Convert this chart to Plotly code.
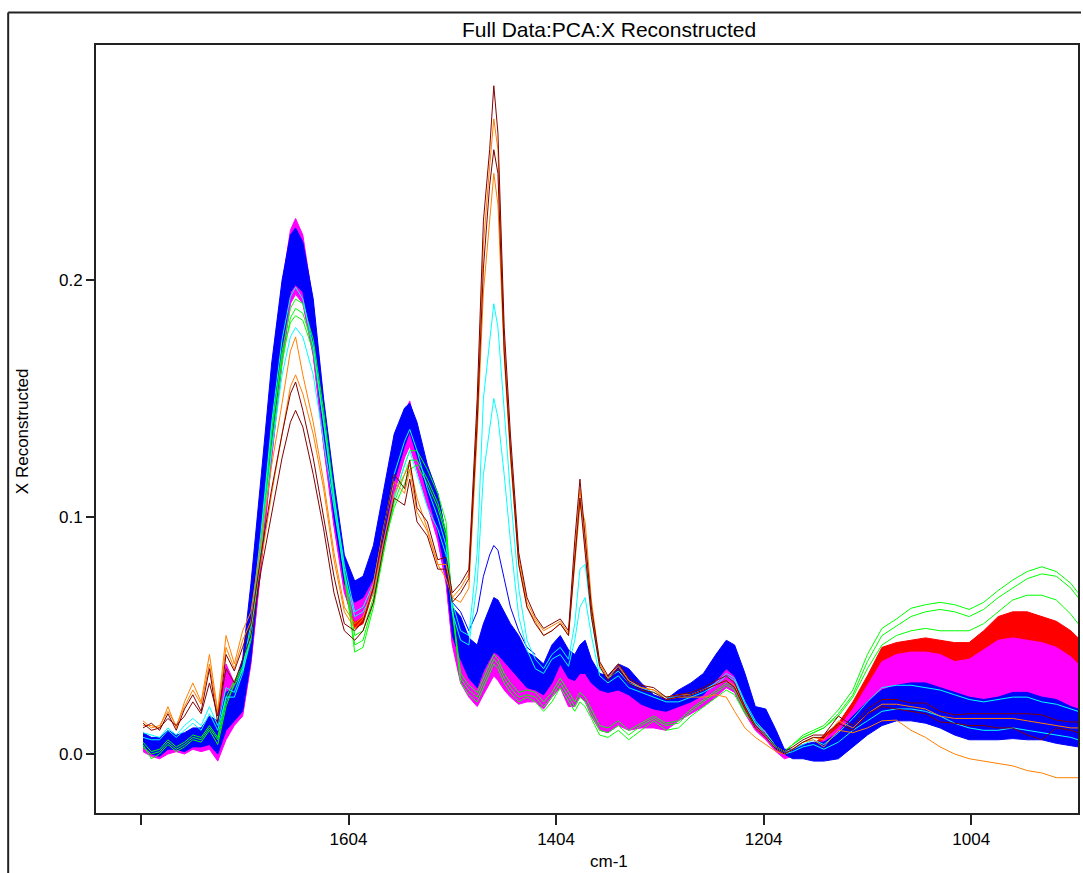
import plotly.graph_objects as go

# wavenumber grid (cm-1)
wavenumber = [1802, 1794, 1786, 1778, 1770, 1762, 1754, 1746, 1738, 1730, 1722, 1714, 1706,
              1698, 1688, 1678, 1668, 1660, 1655, 1648, 1638, 1628, 1618, 1608,
              1598, 1590, 1580, 1570, 1560, 1550, 1545, 1538, 1528, 1518, 1510, 1504,
              1496, 1488, 1480, 1474, 1468, 1464, 1460, 1454, 1448, 1440, 1432, 1424, 1416, 1408,
              1400, 1392, 1386, 1381, 1376, 1370, 1362, 1354, 1344, 1334, 1322, 1310, 1298, 1286,
              1274, 1262, 1250, 1240, 1232, 1222, 1212, 1202, 1192, 1184, 1176, 1166, 1156,
              1146, 1132, 1118, 1104, 1090, 1076, 1062, 1048, 1034, 1020, 1006, 992, 978, 964,
              950, 936, 922, 908, 901]

blue_hi = [0.009, 0.007, 0.007, 0.010, 0.008, 0.009, 0.011, 0.011, 0.016, 0.014, 0.026, 0.028, 0.040,
           0.072, 0.118, 0.165, 0.200, 0.219, 0.222, 0.216, 0.192, 0.150, 0.115, 0.084,
           0.073, 0.075, 0.088, 0.112, 0.135, 0.146, 0.148, 0.140, 0.122, 0.110, 0.092, 0.062,
           0.058, 0.049, 0.046, 0.055, 0.062, 0.066, 0.065, 0.060, 0.055, 0.050, 0.043, 0.041, 0.038, 0.046,
           0.050, 0.044, 0.042, 0.046, 0.048, 0.040, 0.034, 0.033, 0.038, 0.036, 0.030, 0.025, 0.023, 0.027,
           0.030, 0.034, 0.042, 0.048, 0.046, 0.034, 0.020, 0.019, 0.010, 0.002, 0.002, 0.004, 0.005,
           0.005, 0.009, 0.016, 0.022, 0.027, 0.029, 0.030, 0.030, 0.028, 0.026, 0.024, 0.023, 0.024, 0.026,
           0.026, 0.024, 0.023, 0.020, 0.019]
blue_lo = [0.003, 0.000, -0.001, 0.002, 0.002, 0.001, 0.003, 0.003, 0.004, 0.000, 0.010, 0.014, 0.018,
           0.040, 0.085, 0.130, 0.170, 0.195, 0.198, 0.195, 0.172, 0.135, 0.100, 0.072,
           0.064, 0.066, 0.074, 0.092, 0.115, 0.130, 0.136, 0.126, 0.110, 0.094, 0.076, 0.050,
           0.040, 0.032, 0.028, 0.035, 0.040, 0.043, 0.042, 0.039, 0.036, 0.032, 0.028, 0.027, 0.025, 0.030,
           0.038, 0.032, 0.031, 0.034, 0.034, 0.030, 0.027, 0.026, 0.027, 0.025, 0.021, 0.019, 0.018, 0.020,
           0.022, 0.025, 0.031, 0.036, 0.033, 0.022, 0.013, 0.010, 0.002, 0.000, -0.002, -0.002, -0.003,
           -0.003, -0.002, 0.003, 0.008, 0.012, 0.014, 0.014, 0.013, 0.011, 0.008, 0.006, 0.006, 0.006, 0.0065,
           0.006, 0.006, 0.0045, 0.0035, 0.003]
# a few sparse blue spectra standing above the dense band at 1464 cm-1
blue_line_x = [1518, 1510, 1504, 1496, 1488, 1480, 1474, 1468, 1464, 1460, 1454, 1448, 1440, 1432, 1424]
blue_line_y = [0.110, 0.092, 0.064, 0.060, 0.052, 0.060, 0.075, 0.084, 0.088, 0.086, 0.074, 0.062, 0.052, 0.045, 0.042]

magenta_hi = [0.008, 0.006, 0.005, 0.008, 0.007, 0.008, 0.009, 0.010, 0.014, 0.012, 0.038, 0.030, 0.036,
              0.068, 0.112, 0.160, 0.198, 0.221, 0.226, 0.219, 0.190, 0.146, 0.110, 0.080,
              0.066, 0.068, 0.080, 0.104, 0.128, 0.144, 0.149, 0.136, 0.118, 0.104, 0.088, 0.058,
              0.040, 0.035, 0.032, 0.040, 0.048, 0.054, 0.052, 0.046, 0.040, 0.035, 0.031, 0.030, 0.028, 0.033,
              0.041, 0.035, 0.034, 0.037, 0.037, 0.033, 0.030, 0.029, 0.030, 0.028, 0.024, 0.022, 0.021, 0.023,
              0.025, 0.028, 0.034, 0.039, 0.036, 0.025, 0.016, 0.013, 0.004, 0.001, 0.000, 0.002, 0.003,
              0.006, 0.011, 0.019, 0.029, 0.039, 0.042, 0.043, 0.043, 0.042, 0.039, 0.040, 0.044, 0.048, 0.049,
              0.048, 0.047, 0.045, 0.041, 0.038]
magenta_lo = [0.001, -0.001, -0.002, 0.000, 0.001, 0.000, 0.002, 0.001, 0.002, -0.003, 0.006, 0.012, 0.016,
              0.038, 0.080, 0.125, 0.165, 0.190, 0.194, 0.190, 0.168, 0.130, 0.096, 0.068,
              0.056, 0.058, 0.068, 0.088, 0.110, 0.125, 0.130, 0.120, 0.105, 0.090, 0.072, 0.046,
              0.030, 0.024, 0.020, 0.025, 0.030, 0.033, 0.031, 0.027, 0.024, 0.021, 0.022, 0.022, 0.019, 0.024,
              0.028, 0.020, 0.020, 0.024, 0.022, 0.016, 0.010, 0.009, 0.012, 0.010, 0.011, 0.011, 0.010, 0.014,
              0.017, 0.020, 0.024, 0.028, 0.026, 0.017, 0.010, 0.006, 0.001, -0.002, -0.001, 0.001, 0.002,
              0.003, 0.006, 0.013, 0.019, 0.024, 0.026, 0.027, 0.027, 0.025, 0.023, 0.021, 0.020, 0.021, 0.023,
              0.023, 0.021, 0.020, 0.017, 0.016]
red_hi = [0.004, 0.002, 0.001, 0.003, 0.004, 0.003, 0.005, 0.004, 0.005, 0.000, 0.009, 0.015, 0.019,
          0.041, 0.083, 0.128, 0.168, 0.193, 0.197, 0.193, 0.171, 0.133, 0.099, 0.071,
          0.058, 0.060, 0.071, 0.091, 0.113, 0.128, 0.133, 0.123, 0.108, 0.093, 0.075, 0.049,
          0.033, 0.027, 0.023, 0.028, 0.033, 0.036, 0.034, 0.030, 0.027, 0.024, 0.025, 0.025, 0.022, 0.027,
          0.031, 0.023, 0.023, 0.027, 0.025, 0.019, 0.013, 0.012, 0.015, 0.013, 0.014, 0.014, 0.013, 0.017,
          0.020, 0.023, 0.027, 0.031, 0.029, 0.020, 0.013, 0.009, 0.004, 0.001, 0.002, 0.003, 0.004,
          0.008, 0.013, 0.022, 0.033, 0.045, 0.047, 0.048, 0.049, 0.048, 0.047, 0.047, 0.052, 0.058, 0.060,
          0.060, 0.058, 0.056, 0.052, 0.049]
red_lo = [0.002, 0.000, -0.001, 0.001, 0.002, 0.001, 0.003, 0.002, 0.003, -0.002, 0.007, 0.013, 0.017,
          0.039, 0.081, 0.126, 0.166, 0.191, 0.195, 0.191, 0.169, 0.131, 0.097, 0.069,
          0.053, 0.055, 0.069, 0.089, 0.111, 0.126, 0.131, 0.121, 0.106, 0.091, 0.073, 0.047,
          0.031, 0.025, 0.021, 0.026, 0.031, 0.034, 0.032, 0.028, 0.025, 0.022, 0.023, 0.023, 0.020, 0.025,
          0.029, 0.021, 0.021, 0.025, 0.023, 0.017, 0.011, 0.010, 0.013, 0.011, 0.012, 0.012, 0.011, 0.015,
          0.018, 0.021, 0.025, 0.029, 0.027, 0.018, 0.011, 0.007, 0.002, -0.001, 0.000, 0.002, 0.002,
          0.005, 0.010, 0.018, 0.028, 0.038, 0.041, 0.042, 0.042, 0.041, 0.038, 0.039, 0.043, 0.047, 0.048,
          0.047, 0.046, 0.044, 0.040, 0.037]

green_1 = [0.004, -0.002, 0.000, 0.004, 0.001, 0.003, 0.006, 0.005, 0.010, 0.004, 0.020, 0.030, 0.036,
           0.050, 0.090, 0.135, 0.170, 0.188, 0.192, 0.190, 0.175, 0.145, 0.110, 0.076,
           0.043, 0.045, 0.062, 0.085, 0.108, 0.122, 0.128, 0.128, 0.120, 0.110, 0.098, 0.062,
           0.030, 0.025, 0.022, 0.028, 0.034, 0.038, 0.036, 0.030, 0.026, 0.022, 0.024, 0.022, 0.018, 0.022,
           0.028, 0.022, 0.018, 0.022, 0.020, 0.015, 0.008, 0.007, 0.010, 0.006, 0.010, 0.014, 0.010, 0.011,
           0.016, 0.020, 0.024, 0.027, 0.025, 0.017, 0.012, 0.008, 0.003, 0.001, 0.004, 0.008, 0.010,
           0.012, 0.0186, 0.027, 0.042, 0.053, 0.057, 0.0615, 0.063, 0.064, 0.063, 0.061, 0.064, 0.069, 0.0734,
           0.077, 0.079, 0.077, 0.072, 0.068]
green_2 = [0.003, 0.000, 0.001, 0.005, 0.002, 0.004, 0.007, 0.006, 0.011, 0.006, 0.022, 0.029, 0.035,
           0.048, 0.086, 0.130, 0.165, 0.184, 0.188, 0.186, 0.172, 0.142, 0.108, 0.075,
           0.046, 0.048, 0.064, 0.086, 0.106, 0.118, 0.124, 0.124, 0.116, 0.106, 0.094, 0.060,
           0.032, 0.027, 0.024, 0.030, 0.036, 0.040, 0.038, 0.032, 0.028, 0.024, 0.025, 0.024, 0.020, 0.024,
           0.030, 0.024, 0.020, 0.024, 0.022, 0.017, 0.010, 0.009, 0.012, 0.008, 0.012, 0.015, 0.012, 0.013,
           0.018, 0.022, 0.026, 0.029, 0.027, 0.018, 0.012, 0.008, 0.003, 0.001, 0.004, 0.007, 0.009,
           0.011, 0.017, 0.025, 0.039, 0.050, 0.054, 0.058, 0.060, 0.061, 0.060, 0.058, 0.061, 0.066, 0.070,
           0.074, 0.076, 0.075, 0.070, 0.066]
green_3 = [0.005, 0.001, 0.002, 0.006, 0.003, 0.005, 0.008, 0.007, 0.012, 0.007, 0.024, 0.031, 0.037,
           0.052, 0.092, 0.138, 0.168, 0.182, 0.185, 0.183, 0.170, 0.140, 0.106, 0.078,
           0.050, 0.052, 0.066, 0.088, 0.104, 0.114, 0.120, 0.122, 0.114, 0.104, 0.092, 0.062,
           0.034, 0.029, 0.026, 0.032, 0.038, 0.042, 0.040, 0.034, 0.030, 0.026, 0.027, 0.026, 0.022, 0.026,
           0.032, 0.026, 0.022, 0.026, 0.024, 0.019, 0.012, 0.011, 0.014, 0.010, 0.013, 0.016, 0.013, 0.014,
           0.019, 0.023, 0.027, 0.030, 0.028, 0.019, 0.013, 0.009, 0.003, 0.001, 0.004, 0.007, 0.009,
           0.011, 0.016, 0.024, 0.036, 0.046, 0.050, 0.052, 0.053, 0.052, 0.052, 0.052, 0.055, 0.060, 0.065,
           0.067, 0.067, 0.065, 0.059, 0.055]

cyan_1 = [0.009, 0.008, 0.007, 0.011, 0.008, 0.012, 0.015, 0.012, 0.020, 0.012, 0.028, 0.026, 0.036,
          0.055, 0.095, 0.140, 0.175, 0.193, 0.197, 0.192, 0.172, 0.140, 0.108, 0.080,
          0.060, 0.062, 0.072, 0.095, 0.118, 0.132, 0.137, 0.128, 0.112, 0.100, 0.088, 0.064,
          0.052, 0.050, 0.085, 0.150, 0.175, 0.190, 0.180, 0.145, 0.110, 0.070, 0.048, 0.040, 0.036, 0.042,
          0.045, 0.040, 0.055, 0.078, 0.080, 0.058, 0.036, 0.032, 0.035, 0.030, 0.028, 0.026, 0.024, 0.024,
          0.025, 0.027, 0.030, 0.034, 0.032, 0.022, 0.014, 0.009, 0.003, 0.001, 0.002, 0.004, 0.006,
          0.004, 0.009, 0.015, 0.022, 0.028, 0.029, 0.029, 0.028, 0.027, 0.025, 0.023, 0.022, 0.023, 0.024,
          0.024, 0.022, 0.021, 0.019, 0.018]
cyan_2 = [0.007, 0.006, 0.006, 0.010, 0.007, 0.010, 0.013, 0.010, 0.017, 0.010, 0.024, 0.024, 0.034,
          0.050, 0.088, 0.128, 0.160, 0.176, 0.180, 0.176, 0.160, 0.132, 0.102, 0.076,
          0.058, 0.060, 0.068, 0.088, 0.108, 0.122, 0.128, 0.118, 0.104, 0.095, 0.084, 0.060,
          0.048, 0.046, 0.072, 0.118, 0.138, 0.150, 0.142, 0.118, 0.090, 0.058, 0.044, 0.036, 0.034, 0.040,
          0.042, 0.037, 0.048, 0.062, 0.066, 0.050, 0.033, 0.030, 0.033, 0.028, 0.026, 0.024, 0.022, 0.022,
          0.024, 0.026, 0.029, 0.033, 0.031, 0.021, 0.013, 0.008, 0.002, 0.000, 0.001, 0.003, 0.004,
          0.002, 0.005, 0.010, 0.014, 0.018, 0.019, 0.019, 0.018, 0.016, 0.013, 0.011, 0.010, 0.010, 0.011,
          0.010, 0.009, 0.008, 0.007, 0.006]

orange_1 = [0.012, 0.012, 0.011, 0.020, 0.011, 0.022, 0.030, 0.022, 0.042, 0.018, 0.050, 0.038, 0.052,
            0.060, 0.090, 0.122, 0.148, 0.170, 0.176, 0.160, 0.140, 0.115, 0.085, 0.062,
            0.055, 0.058, 0.068, 0.090, 0.110, 0.118, 0.122, 0.108, 0.095, 0.080, 0.074, 0.066,
            0.064, 0.070, 0.135, 0.195, 0.225, 0.245, 0.232, 0.168, 0.125, 0.080, 0.062, 0.056, 0.050, 0.052,
            0.055, 0.050, 0.080, 0.105, 0.098, 0.065, 0.038, 0.032, 0.038, 0.031, 0.028, 0.027, 0.023, 0.024,
            0.024, 0.024, 0.025, 0.024, 0.018, 0.011, 0.007, 0.004, 0.001, 0.000, 0.002, 0.005, 0.006,
            0.003, 0.010, 0.009, 0.011, 0.014, 0.0143, 0.010, 0.007, 0.003, 0.000, -0.002, -0.003, -0.004, -0.005,
            -0.007, -0.008, -0.010, -0.010, -0.010]
orange_2 = [0.014, 0.011, 0.012, 0.018, 0.012, 0.020, 0.027, 0.021, 0.038, 0.017, 0.045, 0.036, 0.048,
            0.056, 0.082, 0.110, 0.135, 0.155, 0.160, 0.152, 0.135, 0.112, 0.082, 0.060,
            0.053, 0.057, 0.072, 0.096, 0.115, 0.110, 0.120, 0.102, 0.094, 0.080, 0.080, 0.066,
            0.070, 0.076, 0.145, 0.215, 0.248, 0.268, 0.255, 0.175, 0.130, 0.083, 0.064, 0.057, 0.052, 0.054,
            0.056, 0.051, 0.086, 0.112, 0.088, 0.060, 0.038, 0.032, 0.037, 0.031, 0.028, 0.027, 0.024, 0.025,
            0.025, 0.027, 0.029, 0.031, 0.029, 0.019, 0.011, 0.007, 0.002, 0.000, 0.002, 0.005, 0.007,
            0.006, 0.014, 0.011, 0.017, 0.021, 0.021, 0.020, 0.019, 0.016, 0.015, 0.015, 0.015, 0.015, 0.015,
            0.014, 0.013, 0.012, 0.011, 0.011]

brown_1 = [0.011, 0.013, 0.010, 0.017, 0.010, 0.019, 0.025, 0.018, 0.036, 0.013, 0.042, 0.035, 0.045,
           0.055, 0.085, 0.112, 0.135, 0.152, 0.157, 0.145, 0.125, 0.100, 0.075, 0.055,
           0.052, 0.056, 0.070, 0.095, 0.118, 0.112, 0.124, 0.104, 0.098, 0.082, 0.083, 0.068,
           0.072, 0.078, 0.150, 0.225, 0.255, 0.282, 0.262, 0.180, 0.135, 0.085, 0.066, 0.058, 0.053, 0.055,
           0.057, 0.052, 0.090, 0.116, 0.092, 0.062, 0.039, 0.033, 0.038, 0.032, 0.029, 0.028, 0.024, 0.025,
           0.026, 0.028, 0.031, 0.033, 0.030, 0.020, 0.012, 0.008, 0.003, 0.001, 0.003, 0.006, 0.008,
           0.008, 0.016, 0.012, 0.019, 0.023, 0.023, 0.0215, 0.0215, 0.018, 0.0165, 0.017, 0.017, 0.017, 0.017,
           0.017, 0.0165, 0.0143, 0.0135, 0.0135]
brown_2 = [0.013, 0.010, 0.011, 0.015, 0.012, 0.016, 0.022, 0.017, 0.030, 0.016, 0.036, 0.030, 0.040,
           0.050, 0.078, 0.102, 0.125, 0.140, 0.145, 0.138, 0.118, 0.095, 0.068, 0.052,
           0.048, 0.052, 0.064, 0.088, 0.108, 0.105, 0.116, 0.098, 0.092, 0.078, 0.078, 0.064,
           0.068, 0.074, 0.140, 0.205, 0.240, 0.255, 0.245, 0.170, 0.128, 0.080, 0.062, 0.055, 0.050, 0.052,
           0.055, 0.050, 0.082, 0.108, 0.085, 0.058, 0.037, 0.031, 0.036, 0.030, 0.027, 0.026, 0.023, 0.024,
           0.025, 0.027, 0.029, 0.031, 0.028, 0.019, 0.011, 0.007, 0.002, 0.000, 0.002, 0.005, 0.007,
           0.007, 0.013, 0.010, 0.017, 0.020, 0.019, 0.018, 0.017, 0.0135, 0.013, 0.012, 0.012, 0.011, 0.011,
           0.008, 0.006, 0.011, 0.010, 0.009]

x_tickvals = [1804, 1604, 1404, 1204, 1004]
x_ticktext = ["", "1604", "1404", "1204", "1004"]
y_tickvals = [0.0, 0.1, 0.2]
y_ticktext = ["0.0", "0.1", "0.2"]

BLUE, MAGENTA, RED = "#0000FF", "#FF00FF", "#FF0000"
GREEN, CYAN, ORANGE, BROWN = "#00FF00", "#00FFFF", "#FF8000", "#800000"

fig = go.Figure()


def add_band(lo, hi, color):
    fig.add_trace(go.Scatter(x=wavenumber, y=lo, mode="lines",
                             line=dict(color=color, width=1), showlegend=False, hoverinfo="skip"))
    fig.add_trace(go.Scatter(x=wavenumber, y=hi, mode="lines", fill="tonexty", fillcolor=color,
                             line=dict(color=color, width=1), showlegend=False, hoverinfo="skip"))


add_band(red_lo, red_hi, RED)
add_band(magenta_lo, magenta_hi, MAGENTA)
add_band(blue_lo, blue_hi, BLUE)
fig.add_trace(go.Scatter(x=blue_line_x, y=blue_line_y, mode="lines",
                         line=dict(color=BLUE, width=1), showlegend=False))

for series, color in [(green_1, GREEN), (green_2, GREEN), (green_3, GREEN),
                      (cyan_1, CYAN), (cyan_2, CYAN),
                      (orange_1, ORANGE), (orange_2, ORANGE),
                      (brown_1, BROWN), (brown_2, BROWN)]:
    fig.add_trace(go.Scatter(x=wavenumber, y=series, mode="lines",
                             line=dict(color=color, width=1), showlegend=False))

W, H = 1083, 873
L, R, T, B = 96, 1080, 45, 813


def px(xp):
    return (xp - L) / (R - L)


def py(yp):
    return (B - yp) / (B - T)


font = "Liberation Sans, Arial, sans-serif"
fig.update_layout(
    width=W, height=H,
    margin=dict(l=L, r=W - R, t=T, b=H - B, pad=0),
    paper_bgcolor="white", plot_bgcolor="white",
    showlegend=False,
    font=dict(family=font, size=17, color="black"),
    xaxis=dict(range=[1847.3, 901.1], tickmode="array", tickvals=x_tickvals, ticktext=x_ticktext,
               ticks="outside", ticklen=10, tickwidth=2, tickcolor="#222",
               showline=True, linewidth=2, linecolor="#222", mirror=True,
               showgrid=False, zeroline=False, tickfont=dict(size=17)),
    yaxis=dict(range=[-0.0249, 0.2992], tickmode="array", tickvals=y_tickvals, ticktext=y_ticktext,
               ticks="outside", ticklen=8, tickwidth=2, tickcolor="#222",
               showline=True, linewidth=2, linecolor="#222", mirror=True,
               showgrid=False, zeroline=False, tickfont=dict(size=17)),
    annotations=[
        dict(text="Full Data:PCA:X Reconstructed", x=px(610), y=py(29), xref="paper", yref="paper",
             showarrow=False, xanchor="center", yanchor="middle", font=dict(size=21)),
        dict(text="cm-1", x=px(610), y=py(861), xref="paper", yref="paper",
             showarrow=False, xanchor="center", yanchor="middle", font=dict(size=17)),
        dict(text="X Reconstructed", x=px(22), y=py(431), xref="paper", yref="paper",
             showarrow=False, xanchor="center", yanchor="middle", textangle=-90, font=dict(size=17)),
    ],
    shapes=[
        dict(type="line", xref="paper", yref="paper", x0=px(8), x1=px(1083), y0=py(12.5), y1=py(12.5),
             line=dict(color="#222", width=2)),
        dict(type="line", xref="paper", yref="paper", x0=px(8), x1=px(8), y0=py(12.5), y1=py(873),
             line=dict(color="#222", width=2)),
    ],
)

fig.write_html("out.html")
